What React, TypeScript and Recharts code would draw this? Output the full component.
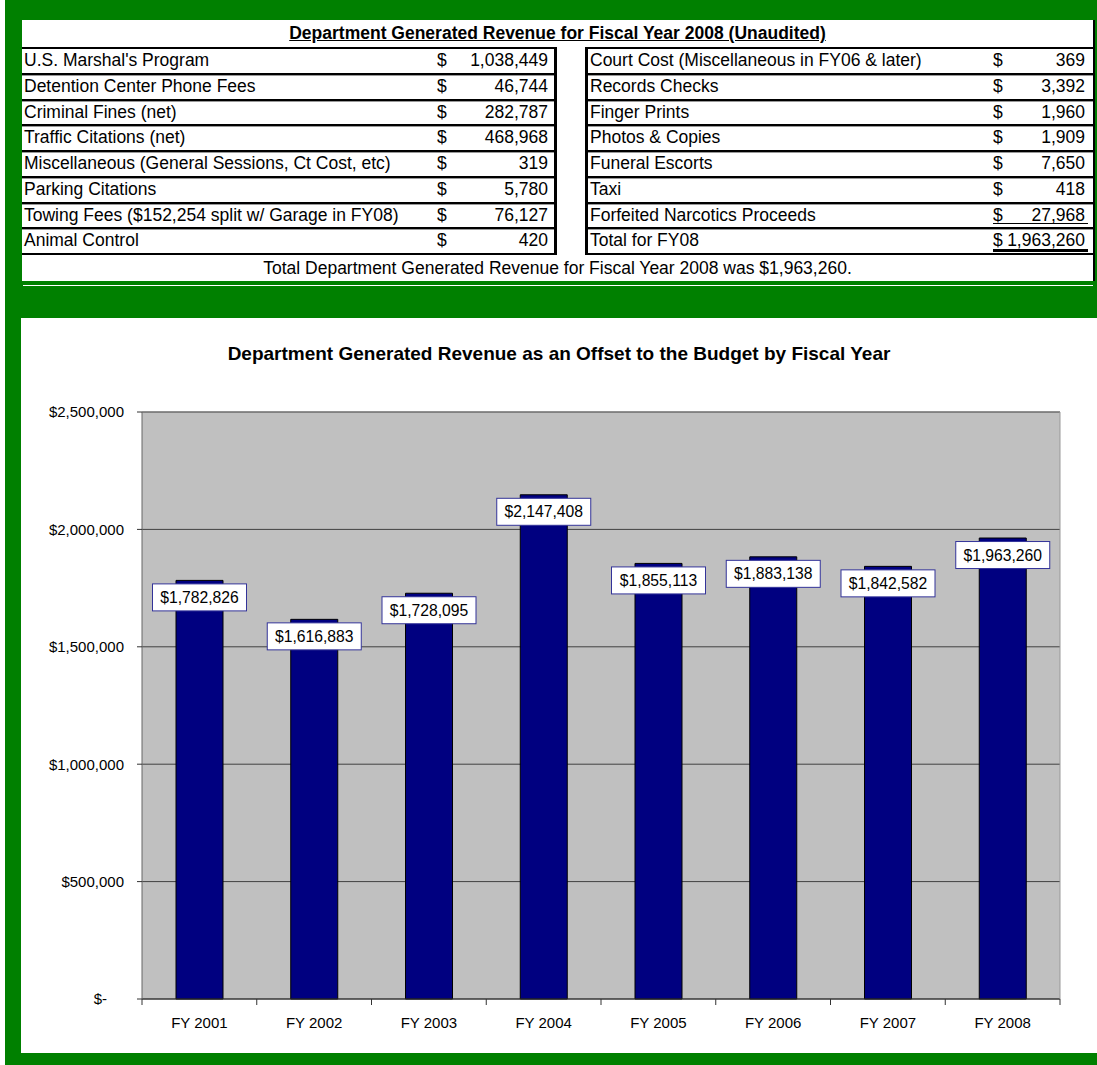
import React from "react";
import { Bar, BarChart, CartesianGrid, LabelList, ReferenceLine, XAxis, YAxis } from "recharts";

const years = ["FY 2001", "FY 2002", "FY 2003", "FY 2004", "FY 2005", "FY 2006", "FY 2007", "FY 2008"];
const revenue = [1782826, 1616883, 1728095, 2147408, 1855113, 1883138, 1842582, 1963260];
const yTicks = [0, 500000, 1000000, 1500000, 2000000, 2500000];

const leftLabels = [
  "U.S. Marshal's Program",
  "Detention Center Phone Fees",
  "Criminal Fines (net)",
  "Traffic Citations (net)",
  "Miscellaneous (General Sessions, Ct Cost, etc)",
  "Parking Citations",
  "Towing Fees ($152,254 split w/ Garage in FY08)",
  "Animal Control",
];
const leftValues = [1038449, 46744, 282787, 468968, 319, 5780, 76127, 420];

const rightLabels = [
  "Court Cost (Miscellaneous in FY06 & later)",
  "Records Checks",
  "Finger Prints",
  "Photos & Copies",
  "Funeral Escorts",
  "Taxi",
  "Forfeited Narcotics Proceeds",
  "Total for FY08",
];
const rightValues = [369, 3392, 1960, 1909, 7650, 418, 27968, 1963260];

const tableTitle = "Department Generated Revenue for Fiscal Year 2008 (Unaudited)";
const tableFooter = "Total Department Generated Revenue for Fiscal Year 2008 was $1,963,260.";
const chartTitle = "Department Generated Revenue as an Offset to the Budget by Fiscal Year";

const data = years.map((year, i) => ({ year, revenue: revenue[i] }));

const FONT = "'Liberation Sans', Arial, sans-serif";
const GREEN = "#008000";
const CHART_W = 1076;
const CHART_H = 735;
const Y_AXIS_W = 121;
const RIGHT_M = 36;
const HALF_BAND = (CHART_W - Y_AXIS_W - RIGHT_M - 1) / years.length / 2;
const ROW_H = 25.75;

const fmt = (v: number) => v.toLocaleString("en-US");

function YTick(props: any) {
  const { x, y, payload } = props;
  const zero = payload.value === 0;
  return (
    <text x={zero ? x - 17 : x} y={y} dy="0.36em" textAnchor="end" fontSize={15} fontFamily={FONT} fill="#000">
      {zero ? "$-" : `$${fmt(payload.value)}`}
    </text>
  );
}

function XTick(props: any) {
  const { x, y, payload, index } = props;
  return (
    <g>
      <line x1={x - HALF_BAND} x2={x - HALF_BAND} y1={y} y2={y + 6} stroke="#333" />
      {index === years.length - 1 && <line x1={x + HALF_BAND} x2={x + HALF_BAND} y1={y} y2={y + 6} stroke="#333" />}
      <text x={x} y={y + 29} textAnchor="middle" fontSize={15} fontFamily={FONT} fill="#000">
        {payload.value}
      </text>
    </g>
  );
}

function ValueBox(props: any) {
  const { x, y, width, value } = props;
  const cx = x + width / 2;
  return (
    <g>
      <rect x={cx - 47} y={y + 3.5} width={94} height={27} fill="#fff" stroke="#333399" />
      <text x={cx} y={y + 17} dy="0.36em" textAnchor="middle" fontSize={15.7} fontFamily={FONT} fill="#000">
        ${fmt(value)}
      </text>
    </g>
  );
}

function TableRow({ label, value, dollarLeft, padRight, underline, isFirst }: any) {
  return (
    <div
      style={{
        position: "relative",
        height: ROW_H,
        boxSizing: "border-box",
        borderTop: "2px solid #000",
        boxShadow: isFirst ? "none" : "inset 0 1px 0 #999",
        lineHeight: `${ROW_H - 2}px`,
        paddingLeft: 2,
        whiteSpace: "nowrap",
      }}
    >
      <span>{label}</span>
      <span style={{ position: "absolute", left: dollarLeft }}>$</span>
      <span style={{ position: "absolute", right: padRight }}>{fmt(value)}</span>
      {underline === "single" && (
        <div style={{ position: "absolute", left: dollarLeft, right: padRight - 3, bottom: 3, height: 1, background: "#000" }} />
      )}
      {underline === "double" && (
        <div style={{ position: "absolute", left: dollarLeft, right: padRight - 3, bottom: 1, height: 3, background: "#000" }} />
      )}
    </div>
  );
}

function RevenueTable() {
  return (
    <div
      style={{
        position: "absolute",
        left: 22,
        top: 20,
        width: 1071,
        height: 261,
        background: "#fff",
        borderRight: "2px solid #000",
        fontFamily: FONT,
        fontSize: 17.5,
        color: "#000",
      }}
    >
      <div style={{ position: "absolute", left: 0, top: 0, width: 1071, height: 27, lineHeight: "27px", textAlign: "center", fontWeight: "bold", textDecoration: "underline" }}>
        {tableTitle}
      </div>
      <div style={{ position: "absolute", left: 0, top: 27, width: 535, boxSizing: "border-box", borderRight: "3px solid #000", borderBottom: "2px solid #000" }}>
        {leftLabels.map((label, i) => (
          <TableRow key={label} label={label} value={leftValues[i]} dollarLeft={415} padRight={6} isFirst={i === 0} />
        ))}
      </div>
      <div style={{ position: "absolute", left: 563, top: 27, width: 508, boxSizing: "border-box", borderLeft: "3px solid #000", borderBottom: "2px solid #000" }}>
        {rightLabels.map((label, i) => (
          <TableRow
            key={label}
            label={label}
            value={rightValues[i]}
            dollarLeft={405}
            padRight={8}
            isFirst={i === 0}
            underline={i === rightLabels.length - 2 ? "single" : i === rightLabels.length - 1 ? "double" : undefined}
          />
        ))}
      </div>
      <div style={{ position: "absolute", left: 0, top: 235, width: 1071, height: 26, lineHeight: "26px", textAlign: "center" }}>
        {tableFooter}
      </div>
    </div>
  );
}

function RevenueChart() {
  return (
    <div style={{ position: "absolute", left: 21, top: 318, width: CHART_W, height: CHART_H, background: "#fff" }}>
      <div
        style={{
          position: "absolute",
          left: 0,
          top: 25,
          width: CHART_W,
          height: 22,
          lineHeight: "22px",
          textAlign: "center",
          fontFamily: FONT,
          fontWeight: "bold",
          fontSize: 19,
          color: "#000",
        }}
      >
        {chartTitle}
      </div>
      <BarChart width={CHART_W} height={CHART_H} data={data} margin={{ top: 94, right: RIGHT_M, bottom: 24, left: 0 }}>
        <CartesianGrid vertical={false} stroke="#404040" fill="#C0C0C0" fillOpacity={1} />
        <ReferenceLine y={2500000} stroke="#808080" />
        <XAxis
          dataKey="year"
          height={30}
          axisLine={{ stroke: "#333" }}
          tickLine={false}
          tickSize={0}
          tickMargin={0}
          tick={<XTick />}
          interval={0}
        />
        <YAxis
          width={Y_AXIS_W}
          domain={[0, 2500000]}
          ticks={yTicks}
          axisLine={{ stroke: "#666" }}
          tickLine={{ stroke: "#333" }}
          tickSize={5}
          tickMargin={13}
          tick={<YTick />}
          interval={0}
        />
        <YAxis yAxisId="r" orientation="right" width={1} domain={[0, 2500000]} tick={false} tickLine={false} axisLine={{ stroke: "#999" }} />
        <Bar dataKey="revenue" fill="#000080" stroke="#000" strokeWidth={1} barSize={47} isAnimationActive={false}>
          <LabelList dataKey="revenue" content={<ValueBox />} />
        </Bar>
      </BarChart>
    </div>
  );
}

export default function App() {
  return (
    <div style={{ position: "absolute", left: 0, top: 0, width: 1097, height: 1065, background: "#fff", overflow: "hidden" }}>
      <div style={{ position: "absolute", left: 5, top: 0, width: 1092, height: 1065, background: GREEN }} />
      <RevenueTable />
      <div style={{ position: "absolute", left: 23, top: 285, width: 1070, height: 1, background: "#fff" }} />
      <RevenueChart />
    </div>
  );
}
